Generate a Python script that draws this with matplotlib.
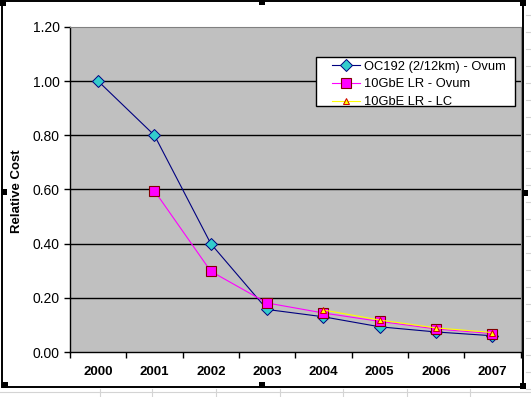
import matplotlib
matplotlib.use("Agg")
import matplotlib.pyplot as plt
from matplotlib.patches import Rectangle
from matplotlib.lines import Line2D
import numpy as np

plt.rcParams["font.family"] = ["Liberation Sans", "DejaVu Sans"]

# data
years = ["2000", "2001", "2002", "2003", "2004", "2005", "2006", "2007"]
oc192_ovum = [1.00, 0.80, 0.40, 0.157, 0.13, 0.093, 0.074, 0.06]
gbe_ovum = [None, 0.595, 0.298, 0.181, 0.144, 0.113, 0.085, 0.068]
gbe_lc = [None, None, None, None, 0.155, 0.118, 0.089, 0.072]
series_names = ["OC192 (2/12km) - Ovum", "10GbE LR - Ovum", "10GbE LR - LC"]
yticks = [0.0, 0.2, 0.4, 0.6, 0.8, 1.0, 1.2]

W, H = 531, 397
fig = plt.figure(figsize=(W / 100, H / 100), dpi=100)
fig.patch.set_facecolor("white")


def px(x0, y0, x1, y1):
    # image pixel box -> figure fraction [left, bottom, width, height]
    return [x0 / W, 1 - y1 / H, (x1 - x0) / W, (y1 - y0) / H]


# spreadsheet grid peeking out around the chart object
for x in [100, 152, 216, 280, 343, 407, 470]:
    fig.add_artist(Line2D([x / W, x / W], [0, 1 - 389 / H], color="#d4d4d4", lw=0.8))
fig.add_artist(Line2D([0, 1], [1 - 392 / H] * 2, color="#d4d4d4", lw=0.8))
for y in np.arange(15, 390, 17):
    fig.add_artist(Line2D([526 / W, 1], [1 - y / H] * 2, color="#d4d4d4", lw=0.8))

# chart object frame
fig.add_artist(Rectangle((2 / W, 1 - 387 / H), 521 / W, 386 / H, transform=fig.transFigure,
                         facecolor="none", edgecolor="black", lw=1.4))

ax = fig.add_axes(px(70, 27, 520.5, 352))
ax.set_facecolor("#c0c0c0")

x = np.arange(len(years))


def vals(s):
    return np.array([np.nan if v is None else v for v in s], dtype=float)


ax.plot(x, vals(oc192_ovum), color="#000080", lw=0.8, marker="D", ms=6.5,
        mfc="#33cccc", mec="#000080", mew=0.7, label=series_names[0], zorder=3)
ax.plot(x, vals(gbe_ovum), color="#ff00ff", lw=0.8, marker="s", ms=7,
        mfc="#ff00ff", mec="#800000", mew=0.8, label=series_names[1], zorder=4)
ax.plot(x, vals(gbe_lc), color="#ffff00", lw=0.8, marker="^", ms=5,
        mfc="#ffff00", mec="#cc0000", mew=0.7, label=series_names[2], zorder=5)

ax.set_xlim(-0.5, len(years) - 0.5)
ax.set_ylim(0, 1.2)
ax.set_yticks(yticks)
ax.set_yticklabels([f"{v:.2f}" for v in yticks], fontsize=10)
for v in yticks[1:-1]:
    ax.axhline(v, color="black", lw=1, zorder=1)

ax.set_xticks(x)
ax.set_xticklabels(years, fontsize=9.5, fontweight="bold")
ax.set_xticks(np.arange(-0.5, len(years)), minor=True)
ax.tick_params(axis="x", which="major", length=0, pad=10)
ax.tick_params(axis="x", which="minor", length=4, width=1, direction="out")
ax.tick_params(axis="y", length=4.5, width=1, direction="out", pad=3)

for side in ["top", "right"]:
    ax.spines[side].set_color("#808080")
    ax.spines[side].set_linewidth(0.8)
for side in ["left", "bottom"]:
    ax.spines[side].set_color("black")
    ax.spines[side].set_linewidth(1)

fig.text(17.5 / W, 1 - 191 / H, "Relative Cost", rotation=90, ha="center", va="center",
         fontsize=9.5, fontweight="bold")

# legend: Excel-style box drawn separately so the left padding can be wider
fig.add_artist(Rectangle((316 / W, 1 - 106 / H), 199 / W, 49 / H, transform=fig.transFigure,
                         facecolor="white", edgecolor="black", lw=1, zorder=6))
handles, labels = ax.get_legend_handles_labels()
leg = fig.legend(handles, labels, loc="upper left", bbox_to_anchor=(332 / W, 1 - 60.5 / H),
                 borderaxespad=0, borderpad=0, fontsize=9.3, frameon=False,
                 handlelength=2.2, handletextpad=0.25, labelspacing=0.45)
leg.set_zorder(7)

# selection handles
for hx, hy in [(3, 3), (262, 2), (523, 3), (4, 192), (525, 193),
               (5, 385), (262, 385), (523, 386)]:
    fig.add_artist(Rectangle(((hx - 3) / W, 1 - (hy + 3) / H), 6 / W, 6 / H,
                             transform=fig.transFigure, facecolor="black", edgecolor="none"))

fig.savefig("out.png", dpi=100)
